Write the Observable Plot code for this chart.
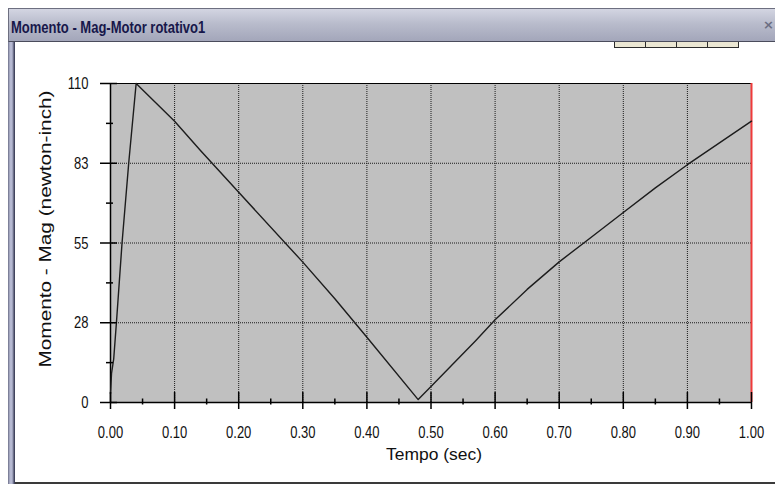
<!DOCTYPE html>
<html>
<head>
<meta charset="utf-8">
<script src="https://cdn.jsdelivr.net/npm/d3@7"></script>
<script src="https://cdn.jsdelivr.net/npm/@observablehq/plot@0.6"></script>
<style>
  html, body { margin: 0; padding: 0; background: #ffffff; }
  body { width: 775px; height: 486px; overflow: hidden; position: relative; }
  #titlebar {
    position: absolute; left: 8px; top: 8px; width: 767px; height: 34px;
    background: linear-gradient(#d3d5e2, #b9bccc 45%, #a3a6ba);
    border-top: 1px solid #6d6f80; border-left: 1px solid #6d6f80;
    border-bottom: 1px solid #4a4c5c; box-sizing: border-box;
  }
  #titletext {
    position: absolute; left: 2px; top: 11px; display: inline-block;
    font: bold 13px/15px "Liberation Sans", Arial, sans-serif;
    color: #17174a; white-space: nowrap;
    transform: scaleY(1.25); transform-origin: left center;
  }
  #closex {
    position: absolute; right: 1px; top: 8px;
    font: bold 13px/15px "DejaVu Sans", sans-serif; color: #6b6e82;
  }
  #tabs { position: absolute; left: 614px; top: 42px; height: 6px; display: flex; }
  .tab {
    width: 30px; height: 5px; background: #ebe7d3;
    border-right: 1px solid #2c2c2c; border-bottom: 1px solid #2c2c2c;
  }
  .tab:first-child { border-left: 1px solid #2c2c2c; }
  #leftborder {
    position: absolute; left: 8px; top: 42px; width: 7px; height: 442px;
    background: linear-gradient(90deg, #6a6d86 0px, #b6b9d2 2px, #b6b9d2 4px, #545772 6px, #2e3048 7px);
  }
  #bottomline { position: absolute; left: 15px; top: 482px; width: 760px; height: 2px; background: #3a3a3a; }
  #chart { position: absolute; left: 0; top: 44px; }
</style>
</head>
<body>
<div id="chart"></div>
<div id="titlebar"><span id="titletext"></span><span id="closex">×</span></div>
<div id="tabs"><div class="tab"></div><div class="tab"></div><div class="tab"></div><div class="tab"></div></div>
<div id="leftborder"></div>
<div id="bottomline"></div>
<script>
// ---- data ----
const windowTitle = "Momento - Mag-Motor rotativo1";
const xAxisLabel = "Tempo (sec)";
const yAxisLabel = "Momento - Mag (newton-inch)";

const tempo   = [0, 0.0016, 0.005, 0.0094, 0.018, 0.0286, 0.040, 0.10, 0.14, 0.20, 0.30, 0.35, 0.40, 0.48, 0.50, 0.57, 0.60, 0.65, 0.70, 0.75, 0.80, 0.85, 0.90, 0.95, 1.00];
const momento = [3, 10, 15, 28, 55, 83, 110, 97, 87, 72.5, 48.4, 35.8, 22.5, 1, 5.5, 21.4, 28.5, 39, 48.5, 57, 65.5, 74, 82, 89.5, 97];

const xMajorTicks = [0, 0.1, 0.2, 0.3, 0.4, 0.5, 0.6, 0.7, 0.8, 0.9, 1.0];
const xTickLabels = ["0.00", "0.10", "0.20", "0.30", "0.40", "0.50", "0.60", "0.70", "0.80", "0.90", "1.00"];
const xMinorTicks = [0.05, 0.15, 0.25, 0.35, 0.45, 0.55, 0.65, 0.75, 0.85, 0.95];
const xGridLines  = [0.1, 0.2, 0.3, 0.4, 0.5, 0.6, 0.7, 0.8, 0.9];

const yMajorTicks = [0, 27.5, 55, 82.5, 110];
const yTickLabels = ["0", "28", "55", "83", "110"];
const yMinorTicks = [13.75, 41.25, 68.75, 96.25];
const yGridLines  = [27.5, 55, 82.5];

const xDomain = [0, 1];
const yDomain = [0, 110];

document.getElementById("titletext").textContent = windowTitle;

const data = tempo.map((t, i) => ({t, m: momento[i]}));
const tickFont = '"Liberation Sans", Arial, sans-serif';

const chart = Plot.plot({
  width: 775,
  height: 442,
  marginLeft: 110,
  marginRight: 24,
  marginTop: 39,
  marginBottom: 84,
  style: {background: "transparent", fontFamily: '"Liberation Sans", Arial, sans-serif', color: "#000"},
  x: {domain: xDomain, axis: null},
  y: {domain: yDomain, axis: null},
  marks: [
    Plot.frame({fill: "#c0c0c0", stroke: null}),
    Plot.ruleX(xGridLines, {stroke: "#1a1a1a", strokeDasharray: "1,1", strokeWidth: 1}),
    Plot.ruleY(yGridLines, {stroke: "#1a1a1a", strokeDasharray: "1,1", strokeWidth: 1}),
    Plot.ruleY([yDomain[1]], {stroke: "#000", strokeWidth: 1}),
    Plot.ruleY([yDomain[0]], {stroke: "#000", strokeWidth: 1.5}),
    Plot.ruleX([xDomain[0]], {stroke: "#000", strokeWidth: 1.5}),
    Plot.ruleX([xDomain[1]], {stroke: "#f03a3a", strokeWidth: 2}),
    Plot.line(data, {x: "t", y: "m", stroke: "#1c1c1c", strokeWidth: 1.4}),
    // tick marks crossing the axes
    Plot.axisX(xMajorTicks, {tickSize: 17, dy: -10, tickFormat: () => "", strokeWidth: 1.5, label: null}),
    Plot.axisX(xMinorTicks, {tickSize: 6, dy: -3.5, tickFormat: () => "", strokeWidth: 1.5, label: null}),
    Plot.axisY(yMajorTicks, {tickSize: 17, dx: 7, tickFormat: () => "", strokeWidth: 1.5, label: null}),
    Plot.axisY(yMinorTicks, {tickSize: 7, dx: 3, tickFormat: () => "", strokeWidth: 1.5, label: null}),
    // tick labels
    Plot.axisX(xMajorTicks, {tickSize: 0, tickPadding: 25, tickFormat: d => xTickLabels[xMajorTicks.indexOf(d)], fontSize: 13, fontFamily: tickFont, fill: "#111", label: null}),
    Plot.axisY(yMajorTicks, {tickSize: 0, tickPadding: 22, tickFormat: d => yTickLabels[yMajorTicks.indexOf(d)], fontSize: 13, fontFamily: tickFont, fill: "#111", label: null}),
    // axis titles
    Plot.text([xAxisLabel], {frameAnchor: "bottom", dy: 47, dx: 3, lineAnchor: "top", textAnchor: "middle", fontSize: 14, fill: "#111"}),
    Plot.text([yAxisLabel], {frameAnchor: "left", rotate: -90, dx: -65, dy: -14, textAnchor: "middle", lineAnchor: "middle", fontSize: 17, fill: "#111"})
  ]
});
document.getElementById("chart").appendChild(chart);

// the reference's horizontal texts are drawn tall and narrow: stretch them vertically,
// and stretch the rotated axis title along its baseline to its length in the reference
const allLabels = new Set([...xTickLabels, ...yTickLabels, xAxisLabel]);
d3.select(chart).selectAll("text").each(function () {
  const s = this.textContent;
  if (s === yAxisLabel) {
    d3.select(this).attr("textLength", 277).attr("lengthAdjust", "spacingAndGlyphs");
  } else if (allLabels.has(s)) {
    if (s === xAxisLabel) d3.select(this).attr("textLength", 96).attr("lengthAdjust", "spacingAndGlyphs");
    const b = this.getBBox();
    const cy = b.y + b.height / 2;
    const k = s === xAxisLabel ? 1.2 : 1.3;
    const t = this.getAttribute("transform") || "";
    this.setAttribute("transform", `${t} translate(0,${cy}) scale(1,${k}) translate(0,${-cy})`);
  }
});
</script>
</body>
</html>
